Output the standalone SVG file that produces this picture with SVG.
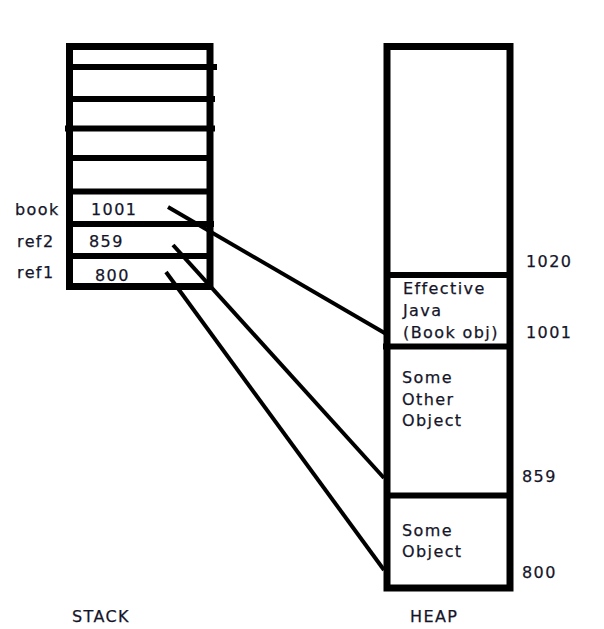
<svg xmlns="http://www.w3.org/2000/svg" width="604" height="629" viewBox="0 0 604 629">
<style>
.box{fill:none;stroke:#000;stroke-width:7}
.div{stroke:#000;stroke-width:6}
.conn{stroke:#000;stroke-width:4;fill:none}
text{font-family:"DejaVu Sans","Verdana",sans-serif;font-size:16px;fill:#15152a;letter-spacing:1.4px;stroke:#15152a;stroke-width:0.25}
</style>
<rect width="604" height="629" fill="#fff"/>
<g id="stack">
<rect class="box" x="69.5" y="46.5" width="140.5" height="240"/>
<line class="div" x1="69" y1="67" x2="217" y2="67"/>
<line class="div" x1="69" y1="99" x2="215" y2="99"/>
<line class="div" x1="65" y1="128.5" x2="215" y2="128.5"/>
<line class="div" x1="69" y1="158" x2="210" y2="158"/>
<line class="div" x1="69" y1="191.5" x2="210" y2="191.5"/>
<line class="div" x1="69" y1="224" x2="214" y2="224"/>
<line class="div" x1="69" y1="256" x2="210" y2="256"/>
<text x="15" y="215">book</text>
<text x="91" y="215">1001</text>
<text x="17" y="247">ref2</text>
<text x="89" y="247">859</text>
<text x="17" y="278">ref1</text>
<text x="95" y="281">800</text>
<text x="72" y="622">STACK</text>
</g>
<g id="heap">
<rect class="box" x="387" y="46.5" width="123" height="541.5"/>
<line class="div" x1="387" y1="275" x2="510" y2="275"/>
<line class="div" x1="383" y1="346.5" x2="510" y2="346.5"/>
<line class="div" x1="387" y1="495.5" x2="510" y2="495.5"/>
<text x="526" y="267">1020</text>
<text x="526" y="338">1001</text>
<text x="522" y="482">859</text>
<text x="522" y="578">800</text>
<text x="410" y="622">HEAP</text>
</g>
<g id="book-obj">
<text x="403" y="294">Effective</text>
<text x="403" y="316">Java</text>
<text x="403" y="338">(Book obj)</text>
</g>
<g id="other-obj">
<text x="402" y="383">Some</text>
<text x="402" y="405">Other</text>
<text x="402" y="426">Object</text>
</g>
<g id="some-obj">
<text x="402" y="536">Some</text>
<text x="402" y="557">Object</text>
</g>
<g id="connectors">
<line class="conn" x1="168" y1="207" x2="388" y2="335"/>
<line class="conn" x1="173" y1="245" x2="384" y2="478"/>
<line class="conn" x1="166" y1="272" x2="384" y2="570"/>
</g>
</svg>
